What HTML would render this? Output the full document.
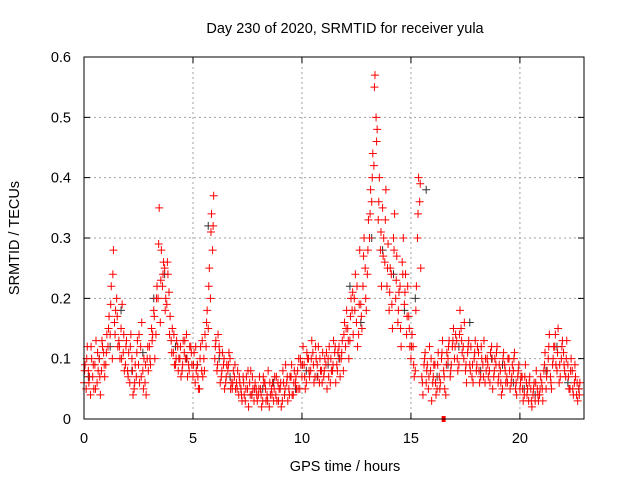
<!DOCTYPE html>
<html><head><meta charset="utf-8"><style>
body{margin:0;background:#fff}
svg{display:block;font-family:"Liberation Sans",sans-serif;font-size:14.5px}
</style></head><body>
<svg id="chart" width="640" height="480">
<text x="345" y="33" text-anchor="middle">Day 230 of 2020, SRMTID for receiver yula</text>
<g id="grid"></g>
<g id="ticks"></g>
<g id="blk"></g>
<g id="red"></g>
<rect x="84" y="57" width="500" height="362" fill="none" stroke="#000"/>
<text x="345" y="471" text-anchor="middle">GPS time / hours</text>
<text x="0" y="0" transform="translate(19,238) rotate(-90)" text-anchor="middle">SRMTID / TECUs</text>
</svg>
<script>
const xTicks=[0,5,10,15,20];
const yTicks=[0,0.1,0.2,0.3,0.4,0.5,0.6];
const yTickLabels=["0","0.1","0.2","0.3","0.4","0.5","0.6"];
const redA=[.06,.05,.08,.04,.07,.09,.06,.10,.08,.11,
.09,.12,.14,.10,.16,.20,.13,.15,.11,.09,
.08,.06,.10,.05,.07,.09,.12,.08,.06,.10,
.12,.15,.18,.14,.20,.16,.22,.25,.19,.21,
.13,.11,.09,.12,.10,.08,.11,.14,.09,.12,
.07,.06,.09,.05,.08,.10,.12,.15,.20,.28,
.10,.08,.12,.07,.09,.06,.08,.10,.05,.07,
.06,.04,.05,.07,.03,.05,.06,.04,.03,.05,
.04,.05,.03,.06,.04,.02,.05,.03,.04,.06,
.05,.03,.04,.06,.05,.07,.04,.06,.08,.05,
.07,.09,.06,.10,.08,.11,.07,.09,.06,.08,
.07,.09,.10,.06,.08,.11,.09,.12,.10,.08,
.12,.15,.13,.18,.20,.16,.14,.19,.22,.25,
.24,.30,.36,.42,.50,.33,.28,.35,.26,.22,
.18,.24,.30,.20,.16,.22,.26,.19,.14,.17,
.10,.12,.08,.30,.36,.07,.09,.06,.05,.08,
.06,.09,.05,.07,.10,.08,.04,.10,.07,.12,
.10,.13,.09,.15,.12,.08,.11,.09,.07,.10,
.08,.11,.07,.09,.06,.10,.08,.12,.07,.09,
.06,.08,.05,.09,.07,.10,.06,.08,.05,.07,
.05,.07,.04,.06,.03,.05,.04,.03,.05,.04,
.06,.08,.05,.10,.07,.09,.12,.08,.06,.10,
.11,.07,.09,.05,.08,.06,.04,.05];
const redB=[.09,.12,.07,.10,.05,.13,.08,.04,.12,.07,
.14,.17,.22,.28,.18,.12,.10,.19,.08,.13,
.11,.14,.04,.09,.13,.06,.16,.10,.04,.08,
.09,.14,.10,.22,.35,.28,.26,.20,.24,.17,
.15,.09,.13,.10,.07,.13,.10,.07,.12,.09,
.11,.08,.05,.12,.07,.14,.18,.25,.34,.37,
.13,.14,.06,.11,.05,.09,.11,.06,.08,.05,
.08,.06,.03,.04,.07,.02,.08,.05,.06,.03,
.07,.02,.06,.03,.08,.04,.06,.07,.03,.05,
.02,.06,.09,.03,.07,.04,.08,.05,.10,.09,
.12,.05,.10,.07,.13,.06,.10,.12,.08,.11,
.10,.05,.12,.08,.13,.06,.11,.07,.13,.16,
.18,.10,.20,.14,.24,.12,.28,.15,.30,.18,
.33,.38,.44,.57,.48,.40,.22,.30,.38,.29,
.25,.15,.34,.27,.21,.12,.30,.24,.22,.12,
.14,.07,.22,.40,.25,.04,.11,.09,.12,.03,
.09,.04,.11,.06,.13,.05,.11,.13,.09,.15,
.14,.08,.18,.11,.16,.06,.13,.12,.06,.13,
.12,.06,.10,.13,.08,.07,.11,.05,.10,.12,
.09,.04,.11,.06,.10,.05,.09,.11,.04,.09,
.07,.03,.09,.05,.07,.02,.06,.08,.03,.07,
.03,.11,.08,.14,.05,.12,.09,.15,.07,.13,
.08,.13,.05,.10,.04,.07,.03,.06];
const redC=[.08,.10,.06,.12,.09,.05,.11,.07,.13,.09,
.11,.15,.19,.24,.14,.17,.12,.10,.14,.12,
.07,.12,.08,.06,.11,.14,.07,.05,.09,.12,
.10,.13,.17,.20,.29,.23,.24,.18,.26,.14,
.11,.14,.10,.08,.12,.09,.13,.10,.08,.11,
.09,.12,.07,.10,.13,.08,.16,.22,.31,.32,
.12,.09,.11,.08,.10,.07,.09,.05,.06,.09,
.05,.07,.04,.06,.05,.08,.04,.07,.05,.04,
.05,.04,.07,.05,.03,.06,.04,.05,.07,.03,
.06,.08,.05,.07,.04,.09,.06,.07,.05,.10,
.09,.07,.11,.08,.10,.09,.12,.07,.10,.06,
.08,.11,.07,.10,.09,.12,.08,.10,.11,.14,
.15,.13,.17,.21,.18,.22,.19,.17,.27,.20,
.28,.34,.40,.55,.46,.36,.31,.27,.33,.25,
.21,.19,.28,.23,.18,.15,.24,.21,.17,.15,
.12,.09,.18,.34,.39,.06,.10,.08,.07,.10,
.07,.06,.09,.05,.11,.07,.09,.12,.08,.13,
.12,.10,.14,.13,.10,.09,.12,.08,.09,.11,
.09,.08,.12,.07,.10,.09,.06,.10,.08,.11,
.07,.06,.10,.08,.06,.08,.07,.10,.06,.08,
.06,.05,.07,.04,.06,.03,.05,.06,.04,.05,
.05,.09,.07,.12,.06,.10,.14,.11,.09,.12,
.09,.10,.07,.08,.05,.09,.06,.04];
const blackV=[.07,.10,.12,.18,.08,.11,.20,.24,.12,.10,.09,.32,.10,.07,.05,.04,.05,.06,.04,.05,.08,.07,.09,.10,.22,.16,.30,.28,.24,.18,.20,.38,.07,.09,.12,.16,.08,.10,.09,.06,.05,.04,.08,.12,.06,.05];
const markerT=[16.5];const markerV=[0];
const X0=84,X1=584,Y0=419,Y1=57,XMAX=22.94,YMAX=0.6;
const sx=t=>X0+(X1-X0)*t/XMAX, sy=v=>Y0-(Y0-Y1)*v/YMAX;
const NS="http://www.w3.org/2000/svg";
function mk(tag,parent){const e=document.createElementNS(NS,tag);parent.appendChild(e);return e;}
const grid=document.getElementById('grid'),ticks=document.getElementById('ticks');
xTicks.forEach(t=>{const x=sx(t);
 if(t>0){const l=mk('line',grid);l.setAttribute('x1',x);l.setAttribute('x2',x);l.setAttribute('y1',Y1);l.setAttribute('y2',Y0);l.setAttribute('stroke','#a0a0a0');l.setAttribute('stroke-dasharray','2,3');
 
 }
 const k=mk('path',ticks);k.setAttribute('d',`M${x},${Y0}v-6M${x},${Y1}v6`);k.setAttribute('stroke','#000');
 const s=mk('text',ticks);s.setAttribute('x',x);s.setAttribute('y',443);s.setAttribute('text-anchor','middle');s.textContent=t;
 
 });
yTicks.forEach((v,i)=>{const y=sy(v);
 if(i>0&&i<yTicks.length-1){const l=mk('line',grid);l.setAttribute('x1',X0);l.setAttribute('x2',X1);l.setAttribute('y1',y);l.setAttribute('y2',y);l.setAttribute('stroke','#a0a0a0');l.setAttribute('stroke-dasharray','2,3');
 
 }
 const k=mk('path',ticks);k.setAttribute('d',`M${X0},${y}h6M${X1},${y}h-6`);k.setAttribute('stroke','#000');
 const s=mk('text',ticks);s.setAttribute('x',71);s.setAttribute('y',y+5);s.setAttribute('text-anchor','end');s.textContent=yTickLabels[i];
 
 });
function plus(arr,step,off){let d='';arr.forEach((v,i)=>{const x=sx(off+i*step),y=sy(v);d+=`M${x-4},${y}h8M${x},${y-4}v8`;});return d;}
const bp=mk('path',document.getElementById('blk'));bp.setAttribute('d',plus(blackV,0.5,0.2));bp.setAttribute('stroke','#333');bp.setAttribute('fill','none');


const ra=mk('path',document.getElementById('red'));ra.setAttribute('d',plus(redA,0.1,0));ra.setAttribute('stroke','#f00');ra.setAttribute('fill','none');


const rb=mk('path',document.getElementById('red'));rb.setAttribute('d',plus(redB,0.1,0.05));rb.setAttribute('stroke','#f00');rb.setAttribute('fill','none');


const rc=mk('path',document.getElementById('red'));rc.setAttribute('d',plus(redC,0.1,0.025));rc.setAttribute('stroke','#f00');rc.setAttribute('fill','none');


markerT.forEach((t,i)=>{const r=mk('rect',document.getElementById('red'));r.setAttribute('x',sx(t)-2);r.setAttribute('y',sy(markerV[i])-3);r.setAttribute('width',4);r.setAttribute('height',6);r.setAttribute('fill','#f00');
 
 });
</script>
</body></html>
